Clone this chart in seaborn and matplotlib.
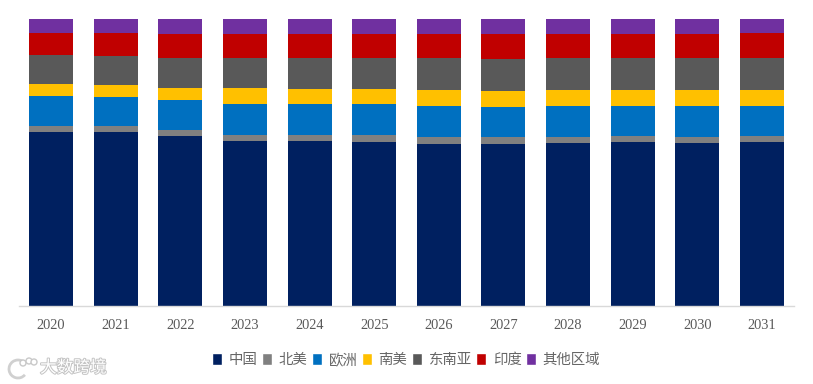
import matplotlib
matplotlib.use("Agg")
import matplotlib.pyplot as plt
import matplotlib.patheffects as pe
from matplotlib.patches import Arc, Circle, Patch
import numpy as np
import pandas as pd
import seaborn as sns

years = [2020, 2021, 2022, 2023, 2024, 2025, 2026, 2027, 2028, 2029, 2030, 2031]
regions = ["中国", "北美", "欧洲", "南美", "东南亚", "印度", "其他区域"]
colors = ["#002060", "#808080", "#0070C0", "#FFC000", "#595959", "#C00000", "#7030A0"]

china = [60.6, 60.6, 59.2, 57.4, 57.4, 57.1, 56.4, 56.4, 56.7, 57.1, 56.7, 57.1]
north_america = [2.1, 2.1, 2.1, 2.1, 2.1, 2.4, 2.4, 2.4, 2.1, 2.1, 2.1, 2.1]
europe = [10.5, 10.1, 10.5, 10.8, 10.8, 10.8, 10.8, 10.5, 10.8, 10.5, 10.8, 10.5]
south_america = [4.2, 4.2, 4.2, 5.6, 5.2, 5.2, 5.6, 5.6, 5.6, 5.6, 5.6, 5.6]
southeast_asia = [10.1, 10.1, 10.5, 10.5, 10.8, 10.8, 11.2, 11.2, 11.2, 11.2, 11.2, 11.2]
india = [7.7, 8.0, 8.4, 8.4, 8.4, 8.4, 8.4, 8.7, 8.4, 8.4, 8.4, 8.7]
other = [4.9, 4.9, 5.2, 5.2, 5.2, 5.2, 5.2, 5.2, 5.2, 5.2, 5.2, 4.9]

series = [china, north_america, europe, south_america, southeast_asia, india, other]

sns.set_theme(style="white")
plt.rcParams["font.family"] = ["Noto Sans CJK SC", "DejaVu Sans"]

W, H = 813, 384
fig = plt.figure(figsize=(W / 100, H / 100), dpi=100)
ax = fig.add_axes([18.7 / W, 1 - 305.5 / H, 775.6 / W, 286.5 / H])

# stack the regions one on top of the other
bottom = np.zeros(len(years))
for name, vals, col in zip(regions, series, colors):
    df = pd.DataFrame({"year": years, "share": vals})
    sns.barplot(data=df, x="year", y="share", color=col, saturation=1, width=0.68,
                bottom=bottom, ax=ax, linewidth=0, errorbar=None)
    bottom = bottom + np.array(vals)

ax.set_xlim(-0.5, 11.5)
ax.set_ylim(0, 100)
ax.set_xlabel("")
ax.set_ylabel("")
ax.set_yticks([])
ax.tick_params(axis="x", length=0, pad=10)
for lab in ax.get_xticklabels():
    lab.set_family("Liberation Serif")
    lab.set_fontsize(10.4)
    lab.set_color("#595959")
for side in ["top", "left", "right"]:
    ax.spines[side].set_visible(False)
ax.spines["bottom"].set_color("#D9D9D9")
ax.spines["bottom"].set_linewidth(1)

handles = [Patch(facecolor=c, label=r) for c, r in zip(colors, regions)]
fig.legend(handles=handles, loc="center", bbox_to_anchor=(406 / W, 1 - 360 / H), ncol=7,
           frameon=False, fontsize=10.4, labelcolor="#666666", handlelength=0.72,
           handleheight=0.95, handletextpad=0.45, columnspacing=0.3, borderpad=0)

# watermark
wm_effects = [pe.withStroke(linewidth=1.4, foreground="#C4C4C4")]
fig.text(40 / W, 1 - 368 / H, "大数跨境", fontsize=12, color="white", va="center", ha="left",
         path_effects=wm_effects)
logo = fig.add_axes([0, 0, 1, 1], facecolor="none")
logo.set_xlim(0, W)
logo.set_ylim(H, 0)
logo.axis("off")
logo.add_patch(Arc((18, 369), 18, 18, theta1=40, theta2=300, color="#D0D0D0", lw=2))
logo.add_patch(Circle((23, 363), 3, fc="white", ec="#C8C8C8", lw=1))
logo.add_patch(Circle((29, 361), 3, fc="white", ec="#C8C8C8", lw=1))
logo.add_patch(Circle((34, 362), 3, fc="white", ec="#C8C8C8", lw=1))

fig.savefig("out.png", dpi=100)
